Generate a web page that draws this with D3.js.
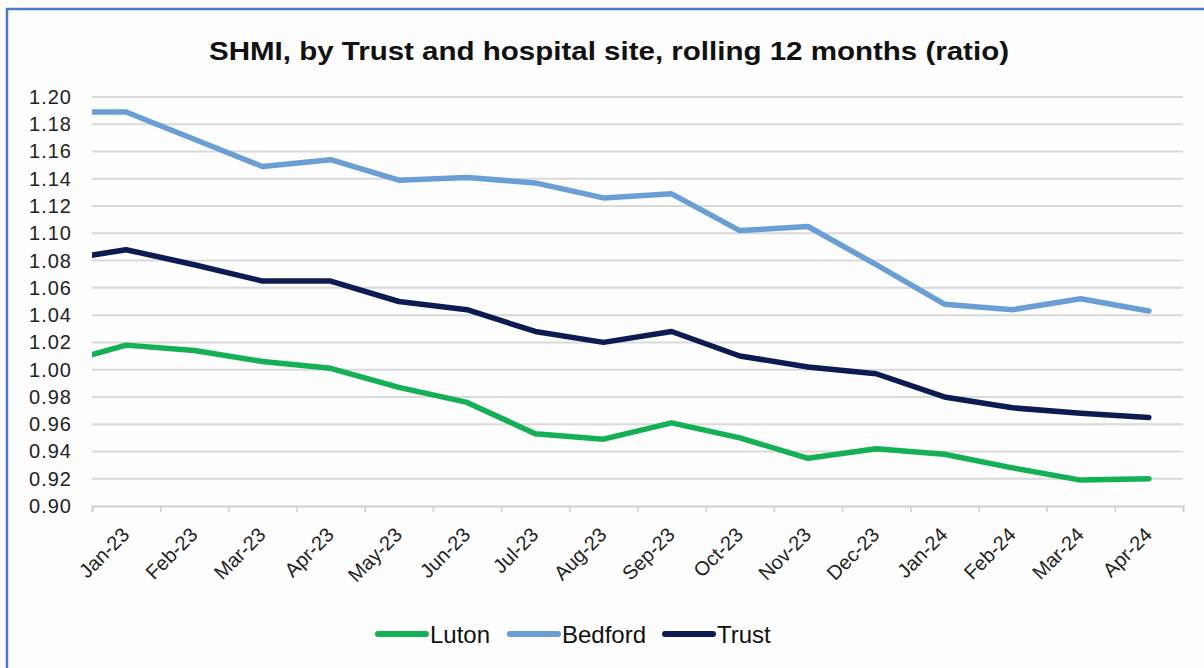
<!DOCTYPE html>
<html>
<head>
<meta charset="utf-8">
<script src="https://cdn.jsdelivr.net/npm/d3@7"></script>
<style>
  body { margin: 0; background: #ffffff; }
  svg { display: block; font-family: "Liberation Sans", Arial, sans-serif; }
</style>
</head>
<body>
<svg id="chart" width="1204" height="668"></svg>
<script>
// Month categories on the x axis
const months = ["Jan-23", "Feb-23", "Mar-23", "Apr-23", "May-23", "Jun-23", "Jul-23", "Aug-23",
                "Sep-23", "Oct-23", "Nov-23", "Dec-23", "Jan-24", "Feb-24", "Mar-24", "Apr-24"];

// Rolling 12-month SHMI ratio per site
const luton   = [1.018, 1.014, 1.006, 1.001, 0.987, 0.976, 0.953, 0.949, 0.961, 0.950, 0.935, 0.942, 0.938, 0.928, 0.919, 0.920];
const bedford = [1.189, 1.169, 1.149, 1.154, 1.139, 1.141, 1.137, 1.126, 1.129, 1.102, 1.105, 1.077, 1.048, 1.044, 1.052, 1.043];
const trust   = [1.088, 1.077, 1.065, 1.065, 1.050, 1.044, 1.028, 1.020, 1.028, 1.010, 1.002, 0.997, 0.980, 0.972, 0.968, 0.965];

// Dec-22 values: the lines run in from the month before the first label (clipped at the plot edge)
const leadLuton = 1.004;
const leadBedford = 1.189;
const leadTrust = 1.080;

const yTicks = [0.90, 0.92, 0.94, 0.96, 0.98, 1.00, 1.02, 1.04, 1.06, 1.08, 1.10, 1.12, 1.14, 1.16, 1.18, 1.20];

const seriesNames = ["Luton", "Bedford", "Trust"];
const seriesColors = ["#14b055", "#6a9fd6", "#0c1c52"];

const series = [
  { name: seriesNames[0], color: seriesColors[0], values: [leadLuton].concat(luton) },
  { name: seriesNames[1], color: seriesColors[1], values: [leadBedford].concat(bedford) },
  { name: seriesNames[2], color: seriesColors[2], values: [leadTrust].concat(trust) }
];

const svg = d3.select("#chart");
const W = 1204, H = 668;
const plot = { left: 92, right: 1183, top: 97, bottom: 506 };

// Background and outer frame
svg.append("rect").attr("width", W).attr("height", H).attr("fill", "#fdfdfd");
svg.append("rect")
  .attr("x", 7).attr("y", 9).attr("width", W + 20).attr("height", H + 20)
  .attr("fill", "none").attr("stroke", "#4a78cf").attr("stroke-width", 2.5);

// Title
svg.append("text")
  .attr("x", 609).attr("y", 60)
  .attr("text-anchor", "middle")
  .attr("font-weight", "bold").attr("font-size", 25)
  .attr("fill", "#111")
  .attr("textLength", 800).attr("lengthAdjust", "spacingAndGlyphs")
  .text("SHMI, by  Trust and hospital site, rolling 12 months (ratio)");

// Scales: category index i sits at the centre of its slot
const x = d3.scaleLinear().domain([-0.5, months.length - 0.5]).range([plot.left, plot.right]);
const y = d3.scaleLinear().domain([0.90, 1.20]).range([plot.bottom, plot.top]);

// Horizontal gridlines
svg.append("g")
  .selectAll("line")
  .data(yTicks.slice(1))
  .join("line")
  .attr("x1", plot.left).attr("x2", plot.right)
  .attr("y1", d => y(d)).attr("y2", d => y(d))
  .attr("stroke", "#d9d9d9").attr("stroke-width", 2);

// Y axis labels
const yAxis = d3.axisLeft(y).tickValues(yTicks).tickFormat(d3.format(".2f")).tickSize(0).tickPadding(20);
const gy = svg.append("g").attr("transform", `translate(${plot.left},0)`).call(yAxis);
gy.select(".domain").remove();
gy.selectAll("text")
  .attr("font-size", 20).attr("fill", "#222")
  .attr("font-family", "\"Liberation Sans\", Arial, sans-serif")
  .attr("letter-spacing", 1);

// X axis: tick marks between categories, labels at category centres
const boundaries = d3.range(months.length + 1).map(i => i - 0.5);
const xTickAxis = d3.axisBottom(x).tickValues(boundaries).tickFormat("").tickSize(6);
const gx = svg.append("g").attr("transform", `translate(0,${plot.bottom})`).call(xTickAxis);
gx.select(".domain").attr("stroke", "#d0d0d0").attr("stroke-width", 2);
gx.selectAll(".tick line").attr("stroke", "#d0d0d0").attr("stroke-width", 1.5);

const xLabelAxis = d3.axisBottom(x).tickValues(d3.range(months.length)).tickFormat(i => months[i]).tickSize(0);
const gxl = svg.append("g").attr("transform", `translate(0,${plot.bottom})`).call(xLabelAxis);
gxl.select(".domain").remove();
gxl.selectAll("text")
  .attr("font-size", 20).attr("fill", "#222")
  .attr("font-family", "\"Liberation Sans\", Arial, sans-serif")
  .attr("text-anchor", "end")
  .attr("dy", 0).attr("y", 0)
  .attr("transform", "translate(4,30) rotate(-45)");

// Clip so the lead-in segment starts exactly at the plot's left edge
svg.append("clipPath").attr("id", "plot-clip")
  .append("rect").attr("x", plot.left).attr("y", 0).attr("width", plot.right - plot.left).attr("height", H);

const line = d3.line()
  .x((d, i) => x(i - 1))
  .y(d => y(d));

svg.append("g").attr("clip-path", "url(#plot-clip)")
  .selectAll("path")
  .data(series)
  .join("path")
  .attr("d", d => line(d.values))
  .attr("fill", "none")
  .attr("stroke", d => d.color)
  .attr("stroke-width", 5.5)
  .attr("stroke-linejoin", "round")
  .attr("stroke-linecap", "round");

// Legend
const legendX = [378, 510, 665];
const legend = svg.append("g");
series.forEach((s, k) => {
  const g = legend.append("g").attr("transform", `translate(${legendX[k]},634)`);
  g.append("line").attr("x1", 0).attr("x2", 48).attr("y1", 0).attr("y2", 0)
    .attr("stroke", s.color).attr("stroke-width", 6).attr("stroke-linecap", "round");
  g.append("text").attr("x", 52).attr("y", 9)
    .attr("font-size", 24).attr("fill", "#111")
    .text(s.name);
});
</script>
</body>
</html>
